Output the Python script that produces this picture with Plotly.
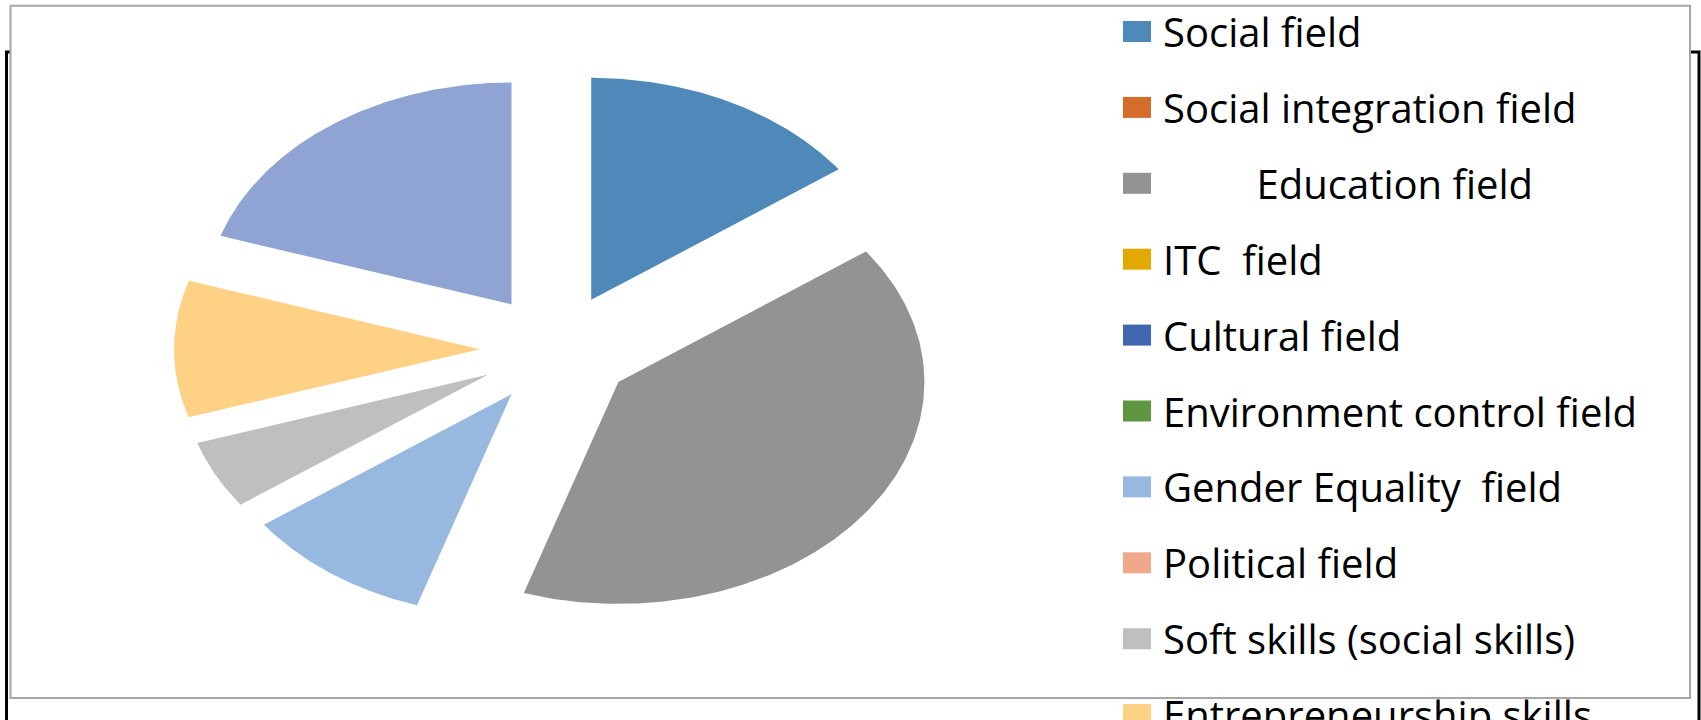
import numpy as np
import plotly.graph_objects as go

# categories and their shares (%), in Excel drawing order (clockwise from 12 o'clock)
fields = ["Social field", "Social integration field", "Education field", "ITC  field",
          "Cultural field", "Environment control field", "Gender Equality  field",
          "Political field", "Soft skills (social skills)", "Entrepreneurship skills",
          "Other skills"]
shares = [15, 0, 40, 0, 0, 0, 10, 0, 5, 10, 20]
colors = ["#4F89BA", "#D36D2B", "#939393", "#E2AA00", "#3F66AE", "#5F9741",
          "#98B9DF", "#F0A88A", "#BFBFBF", "#FED185", "#8FA4D3"]

W, H = 1701, 720
# pie centre / radii in pixels (the original is stretched horizontally)
cx, cy, rx, ry = 556.5, 349.3, 306, 222
explode = 0.25

fig = go.Figure()

total = sum(shares)
cum = 0
for name, val, col in zip(fields, shares, colors):
    t0 = 2 * np.pi * cum / total
    cum += val
    t1 = 2 * np.pi * cum / total
    if val == 0:
        continue
    mid = (t0 + t1) / 2
    ox, oy = explode * np.sin(mid), explode * np.cos(mid)
    t = np.linspace(t0, t1, 200)
    xs = np.concatenate([[ox], ox + np.sin(t), [ox]])
    ys = np.concatenate([[oy], oy + np.cos(t), [oy]])
    fig.add_trace(go.Scatter(x=xs, y=ys, fill="toself", fillcolor=col, mode="lines",
                             line=dict(width=0, color=col), name=name.strip(),
                             hoveron="fills", text=f"{name.strip()}: {val}%",
                             hoverinfo="text", showlegend=False))


def px(x):
    return x / W


def py(y):
    return 1 - y / H


shapes = [
    # black outer frame behind the chart
    dict(type="rect", xref="paper", yref="paper", x0=px(6.5), x1=px(1699),
         y0=py(760), y1=py(52), line=dict(color="black", width=3), layer="below"),
    # chart area box
    dict(type="rect", xref="paper", yref="paper", x0=px(10.5), x1=px(1690),
         y0=py(698), y1=py(5.7), line=dict(color="#A6A6A6", width=2),
         fillcolor="white", layer="below"),
]

# legend drawn by hand (it overflows the chart box, as in the original)
labels = [f.replace("  ", "\u00a0\u00a0") for f in fields]
labels[2] = "\u00a0" * 9 + labels[2]
annotations = []
row0, step = 31.5, 75.9
for i, (lab, col) in enumerate(zip(labels, colors)):
    yc = row0 + i * step
    shapes.append(dict(type="rect", xref="paper", yref="paper", x0=px(1123), x1=px(1151),
                       y0=py(yc + 10.5), y1=py(yc - 10.5), fillcolor=col,
                       line=dict(width=0)))
    annotations.append(dict(xref="paper", yref="paper", x=px(1161), y=py(yc),
                            xanchor="left", yanchor="middle", text=lab, showarrow=False,
                            font=dict(family="Open Sans", size=40, color="black")))

fig.update_layout(
    width=W, height=H, autosize=False,
    margin=dict(l=0, r=0, t=0, b=0),
    paper_bgcolor="white", plot_bgcolor="rgba(0,0,0,0)",
    xaxis=dict(range=[-cx / rx, (W - cx) / rx], visible=False, fixedrange=True),
    yaxis=dict(range=[-(H - cy) / ry, cy / ry], visible=False, fixedrange=True),
    shapes=shapes, annotations=annotations, showlegend=False,
)

fig.write_html("out.html", config={"displayModeBar": False},
               post_script="document.body.style.margin = '0';")
